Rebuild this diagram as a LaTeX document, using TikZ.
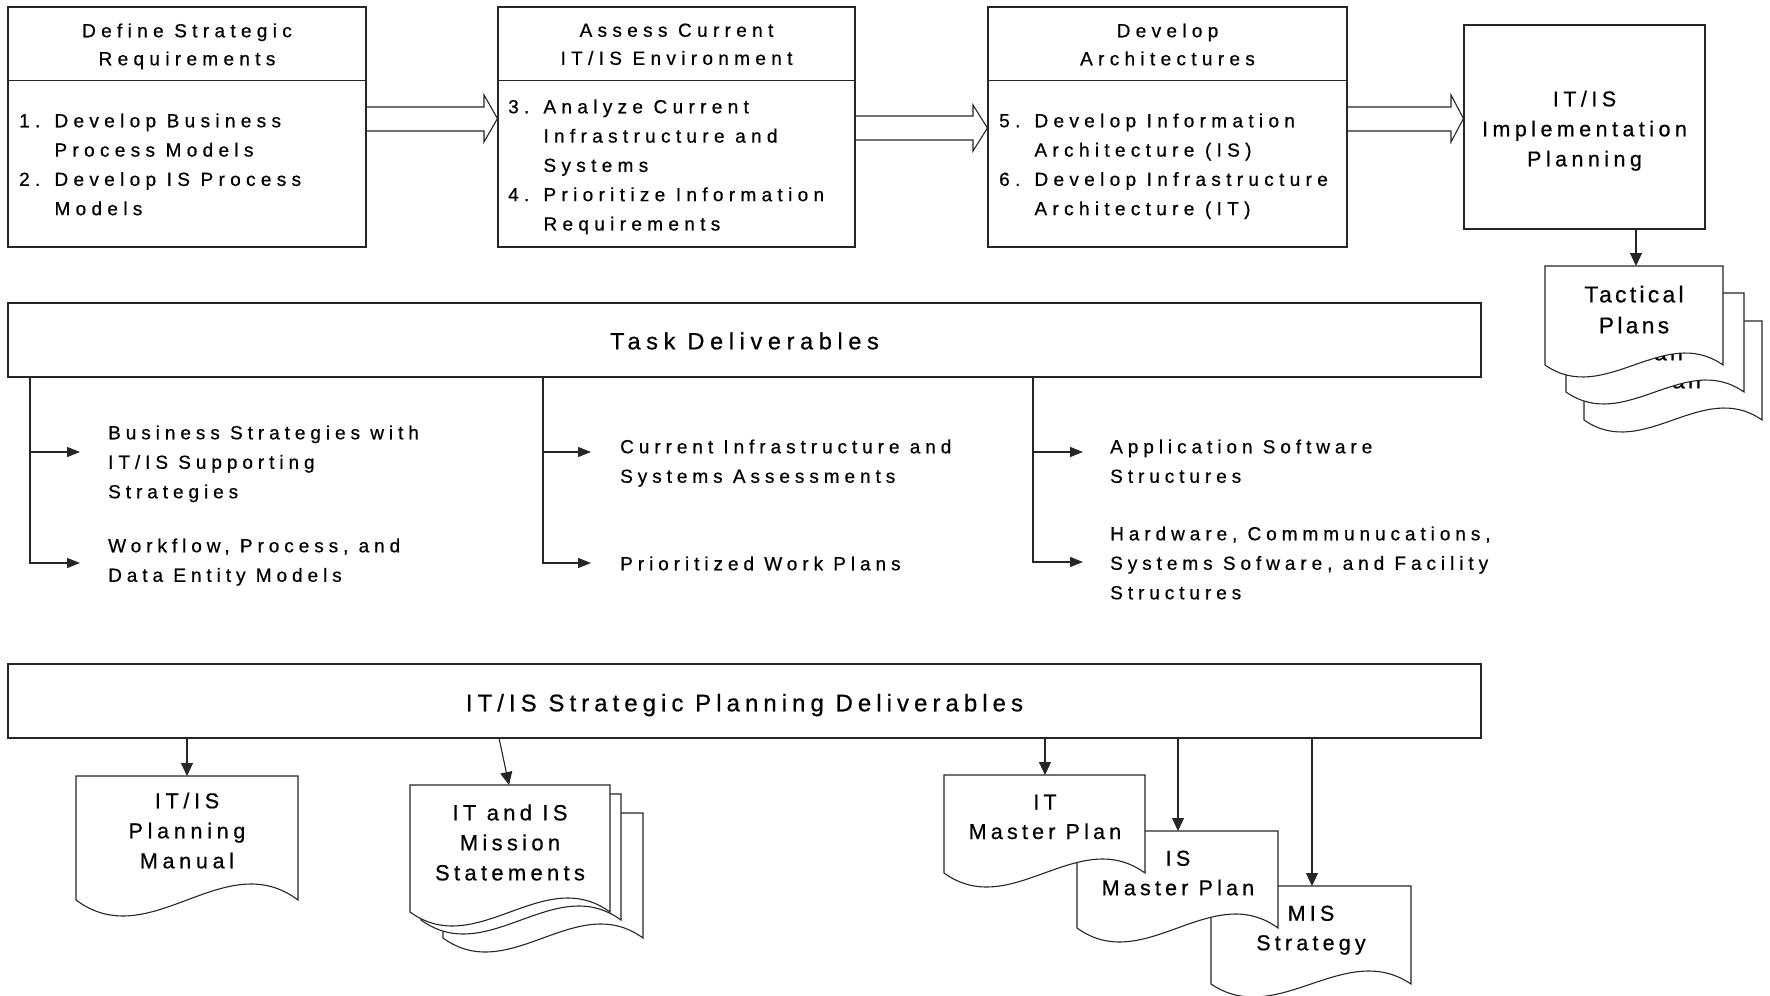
\documentclass[tikz,border=0pt]{standalone}
\usepackage{fontspec}
\setmainfont{Liberation Sans}
\newfontfamily\fBox[LetterSpace=28,FakeBold=0.6]{Liberation Sans}
\newfontfamily\fImpl[LetterSpace=21,FakeBold=0.6]{Liberation Sans}
\newfontfamily\fTask[LetterSpace=24,FakeBold=0.6]{Liberation Sans}
\newfontfamily\fStrat[LetterSpace=21,FakeBold=0.6]{Liberation Sans}
\newfontfamily\fBranch[LetterSpace=26,FakeBold=0.6]{Liberation Sans}
\newfontfamily\fTact[LetterSpace=14.5,FakeBold=0.6]{Liberation Sans}
\newfontfamily\fMiss[LetterSpace=19.5,FakeBold=0.6]{Liberation Sans}
\newfontfamily\fMan[LetterSpace=22,FakeBold=0.6]{Liberation Sans}
\newfontfamily\fMast[LetterSpace=19.5,FakeBold=0.6]{Liberation Sans}
\usetikzlibrary{arrows.meta}
\tikzset{
  ln/.style={line width=1.1pt, draw=black!85},
  boxnode/.style={ln, rectangle, inner sep=0pt, fill=white},
  blk/.style={ln, line join=miter},
  arr/.style={ln, -{Triangle[length=13pt,width=12pt]}},
  arrs/.style={ln, -{Triangle[length=13pt,width=10pt]}},
  docshape/.style={ln, fill=white},
  tboxh/.style={inner sep=0pt, anchor=north, align=center, font=\fBox\fontsize{19pt}{28pt}\selectfont},
  tboxl/.style={inner sep=0pt, anchor=north west, align=left, font=\fBox\fontsize{19pt}{29.3pt}\selectfont},
  timpl/.style={inner sep=0pt, anchor=north, align=center, font=\fImpl\fontsize{21.4pt}{30pt}\selectfont},
  ttask/.style={inner sep=0pt, anchor=north, align=center, font=\fTask\fontsize{23.5pt}{30pt}\selectfont},
  tstrat/.style={inner sep=0pt, anchor=north, align=center, font=\fStrat\fontsize{24pt}{30pt}\selectfont},
  tbranch/.style={inner sep=0pt, anchor=north west, align=left, font=\fBranch\fontsize{19pt}{29.5pt}\selectfont},
  ttact/.style={inner sep=0pt, anchor=north, align=center, font=\fTact\fontsize{22.8pt}{31pt}\selectfont},
  tmiss/.style={inner sep=0pt, anchor=north, align=center, font=\fMiss\fontsize{22pt}{30pt}\selectfont},
  tman/.style={inner sep=0pt, anchor=north, align=center, font=\fMan\fontsize{21.5pt}{30pt}\selectfont},
  tmast/.style={inner sep=0pt, anchor=north, align=center, font=\fMast\fontsize{21.5pt}{29.5pt}\selectfont},
}
% document shape: x0, ytop, x1, ybottom, amplitude
\newcommand{\mydoc}[5]{%
  \filldraw[docshape] (#1,#2) -- (#3,#2) -- (#3,#4)
    .. controls ({#1+(#3-#1)*2/3},{#4-3.46*#5}) and ({#1+(#3-#1)/3},{#4+3.46*#5}) .. (#1,#4) -- cycle;}
\begin{document}
\begin{tikzpicture}[x=1pt,y=-1pt]
\useasboundingbox (0,0) rectangle (1770,996);

% ---------- top process boxes ----------
\node[boxnode, minimum width=358pt, minimum height=240pt] (b1) at (187,127) {};
\node[boxnode, minimum width=357pt, minimum height=240pt] (b2) at (676.5,127) {};
\node[boxnode, minimum width=359pt, minimum height=240pt] (b3) at (1167.5,127) {};
\node[boxnode, minimum width=241pt, minimum height=204pt] (b4) at (1584.5,127) {};
\draw[ln] ([yshift=-74pt]b1.north west) -- ([yshift=-74pt]b1.north east);
\draw[ln] ([yshift=-74pt]b2.north west) -- ([yshift=-74pt]b2.north east);
\draw[ln] ([yshift=-74pt]b3.north west) -- ([yshift=-74pt]b3.north east);

\node[tboxh] (t1h) at (187,23.3) {Define Strategic\\Requirements};
\node[tboxl] (t1i) at (19,113.3) {1. Develop Business\\\phantom{1. }Process Models\\2. Develop IS Process\\\phantom{2. }Models};
\node[tboxh] (t2h) at (676.5,23.3) {Assess Current\\IT/IS Environment};
\node[tboxl] (t2i) at (508,99.3) {3. Analyze Current\\\phantom{3. }Infrastructure and\\\phantom{3. }Systems\\4. Prioritize Information\\\phantom{4. }Requirements};
\node[tboxh] (t3h) at (1167.5,23.3) {Develop\\Architectures};
\node[tboxl] (t3i) at (999,113.3) {5. Develop Information\\\phantom{5. }Architecture (IS)\\6. Develop Infrastructure\\\phantom{6. }Architecture (IT)};
\node[timpl] (t4) at (1584.5,90.6) {IT/IS\\Implementation\\Planning};

% ---------- block arrows ----------
\draw[blk] ([yshift=20pt]b1.east) -- (484,107) -- (484,95) -- ([yshift=8.5pt]b2.west) -- (484,142) -- (484,131) -- ([yshift=-4pt]b1.east);
\draw[blk] ([yshift=11pt]b2.east) -- (973,116) -- (973,105) -- ([yshift=-1pt]b3.west) -- (973,151) -- (973,140) -- ([yshift=-13pt]b2.east);
\draw[blk] ([yshift=20pt]b3.east) -- (1451,107) -- (1451,95) -- ([yshift=8.5pt]b4.west) -- (1451,142) -- (1451,131) -- ([yshift=-4pt]b3.east);

% ---------- tactical plans stack ----------
\mydoc{1584}{321}{1762}{420}{12}
\node[ttact] (tac3) at (1673,371.6) {Plan};
\mydoc{1566}{293}{1744}{392}{12}
\node[ttact] (tac2) at (1655,343.6) {Plan};
\mydoc{1545}{266}{1723}{365}{12}
\node[ttact] (tac1) at (1634,285.6) {Tactical\\Plans};
\coordinate (tacT) at (1636,266);
\draw[arr] (b4.south -| tacT) -- (tacT);

% ---------- task deliverables ----------
\node[boxnode, minimum width=1473pt, minimum height=74pt] (task) at (744.5,340) {};
\node[ttask] (tt) at (744.5,332.1) {Task Deliverables};

\coordinate (s1) at (30,377);
\coordinate (e1a) at (80,452);
\coordinate (e1b) at (80,563);
\coordinate (s2) at (543,377);
\coordinate (e2a) at (591,452);
\coordinate (e2b) at (591,563);
\coordinate (s3) at (1033,377);
\coordinate (e3a) at (1083,452);
\coordinate (e3b) at (1083,562);
\draw[arrs] (s1) |- (e1b);
\draw[arrs] (s1 |- e1a) -- (e1a);
\draw[arrs] (s2) |- (e2b);
\draw[arrs] (s2 |- e2a) -- (e2a);
\draw[arrs] (s3) |- (e3b);
\draw[arrs] (s3 |- e3a) -- (e3a);

\node[tbranch] (d1a) at (108,425.3) {Business Strategies with\\IT/IS Supporting\\Strategies};
\node[tbranch] (d1b) at (108,538.3) {Workflow, Process, and\\Data Entity Models};
\node[tbranch] (d2a) at (620,439.3) {Current Infrastructure and\\Systems Assessments};
\node[tbranch] (d2b) at (620,556.3) {Prioritized Work Plans};
\node[tbranch] (d3a) at (1110,439.3) {Application Software\\Structures};
\node[tbranch] (d3b) at (1110,526.3) {Hardware, Commmunucations,\\Systems Sofware, and Facility\\Structures};

% ---------- strategic planning deliverables ----------
\node[boxnode, minimum width=1473pt, minimum height=74pt] (strat) at (744.5,701) {};
\node[tstrat] (ts) at (744.5,693.7) {IT/IS Strategic Planning Deliverables};

% planning manual
\mydoc{76}{776}{298}{900}{16}
\node[tman] (man) at (187,792.5) {IT/IS\\Planning\\Manual};
\coordinate (manT) at (187,776);
\draw[arr] (strat.south -| manT) -- (manT);

% mission statements stack
\mydoc{443}{813}{643}{938}{14}
\mydoc{421}{794}{621}{920}{14}
\mydoc{410}{785}{610}{912}{14}
\node[tmiss] (mis) at (510,804.2) {IT and IS\\Mission\\Statements};
\coordinate (misS) at (499,738);
\coordinate (misT) at (509,785);
\draw[arr] (misS) -- (misT);

% master plans
\mydoc{1211}{886}{1411}{984}{13}
\node[tmast] (mist) at (1311,905.5) {MIS\\Strategy};
\mydoc{1077}{831}{1278}{928}{14}
\node[tmast] (isp) at (1178,850.5) {IS\\Master Plan};
\mydoc{944}{775}{1145}{873}{14}
\node[tmast] (itp) at (1045,794.5) {IT\\Master Plan};
\coordinate (itT) at (1045,775);
\coordinate (isT) at (1178,831);
\coordinate (mistT) at (1312,886);
\draw[arr] (strat.south -| itT) -- (itT);
\draw[arr] (strat.south -| isT) -- (isT);
\draw[arr] (strat.south -| mistT) -- (mistT);
\end{tikzpicture}
\end{document}
